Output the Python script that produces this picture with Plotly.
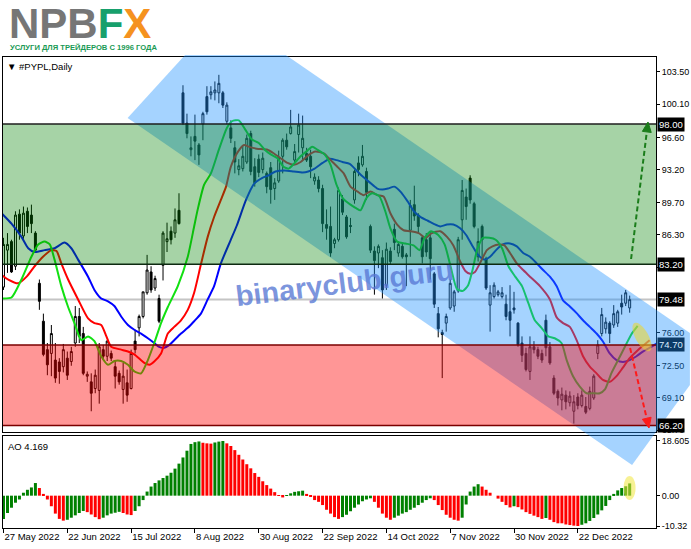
import math
import plotly.graph_objects as go

# ---------------- data ----------------
date_labels = ["27 May 2022", "22 Jun 2022", "15 Jul 2022", "8 Aug 2022", "30 Aug 2022",
               "22 Sep 2022", "14 Oct 2022", "7 Nov 2022", "30 Nov 2022", "22 Dec 2022"]
date_label_bars = [0, 16, 32, 48, 64, 80, 96, 112, 128, 144]

opens = [80.8, 84.7, 85.6, 83.0, 88.5, 86.2, 88.8, 88.4, 86.5, 81.2,
         77.2, 74.2, 73.8, 73.1, 72.9, 72.4, 73.3, 72.95, 74.9, 77.7,
         75.9, 71.4, 70.8, 70.1, 69.9, 74.2, 73.5, 73.8, 72.4, 71.7,
         70.0, 70.7, 70.1, 75.1, 76.5, 77.7, 80.2, 82.4, 80.7, 79.6,
         83.1, 85.6, 86.7, 86.5, 88.9, 101.3, 98.1, 95.3, 96.7, 95.8,
         98.0, 100.9, 101.1, 101.3, 101.3, 101.3, 98.3, 97.6, 95.5, 93.2,
         93.3, 94.0, 97.0, 93.5, 94.3, 93.2, 92.8, 93.4, 91.2, 92.0,
         94.6, 96.3, 97.0, 94.2, 96.9, 95.5, 94.9, 94.6, 92.0, 92.1,
         91.2, 87.4, 87.2, 85.4, 85.8, 90.1, 88.2, 87.3, 90.0, 93.9,
         93.7, 93.0, 87.2, 84.6, 84.4, 83.9, 81.0, 84.6, 86.9, 84.4,
         85.1, 84.2, 86.8, 89.5, 88.4, 86.0, 85.8, 86.0, 82.2, 78.0,
         76.0, 77.0, 78.6, 78.8, 80.4, 87.9, 90.3, 92.3, 89.6, 84.0,
         87.2, 83.8, 78.9, 79.8, 80.0, 79.8, 79.0, 78.2, 78.6, 77.0,
         74.9, 73.8, 71.9, 74.5, 74.2, 73.8, 77.3, 74.5, 71.2, 69.8,
         68.9, 69.4, 68.6, 67.7, 69.2, 68.3, 68.2, 68.0, 69.1, 73.8,
         75.9, 76.4, 77.0, 76.8, 77.0, 79.1, 79.1, 78.6]
highs = [86.0, 86.5, 85.8, 88.8, 89.0, 89.3, 89.2, 89.5, 86.7, 81.6,
         78.0, 74.9, 76.8, 74.9, 73.3, 74.8, 74.0, 74.5, 78.8, 78.6,
         76.6, 71.9, 71.7, 72.1, 74.9, 74.7, 75.2, 74.1, 73.1, 72.0,
         72.8, 72.1, 74.2, 76.3, 77.9, 80.3, 84.2, 83.0, 82.0, 80.0,
         86.7, 87.6, 87.2, 89.1, 90.7, 102.1, 99.1, 96.7, 99.0, 96.0,
         99.3, 102.0, 102.0, 102.5, 103.2, 101.5, 100.3, 98.4, 96.2, 94.3,
         95.8, 96.9, 97.3, 94.4, 94.8, 95.0, 93.0, 94.0, 92.3, 95.2,
         96.5, 97.0, 99.5, 95.9, 99.1, 98.9, 95.5, 95.3, 92.8, 92.5,
         91.6, 89.0, 89.3, 86.0, 91.3, 90.5, 88.4, 88.1, 93.2, 94.6,
         95.8, 93.4, 87.4, 85.1, 85.3, 84.7, 85.5, 85.0, 87.5, 85.6,
         85.4, 84.4, 90.0, 91.5, 88.6, 86.3, 86.5, 86.7, 82.4, 78.7,
         76.3, 78.0, 81.6, 80.5, 86.1, 92.1, 91.2, 92.6, 89.8, 87.0,
         87.4, 84.0, 81.0, 81.3, 80.5, 80.8, 80.0, 81.0, 80.3, 77.1,
         75.6, 74.4, 75.6, 75.1, 74.5, 74.2, 77.9, 75.0, 71.5, 70.0,
         70.2, 69.9, 69.8, 69.4, 69.6, 69.9, 69.2, 70.3, 71.6, 75.2,
         78.6, 77.6, 77.2, 78.9, 78.4, 80.0, 80.5, 79.9]
lows = [80.5, 82.3, 82.3, 82.6, 85.8, 85.9, 86.5, 86.5, 84.4, 78.4,
        73.5, 71.5, 71.4, 70.7, 70.6, 71.8, 71.0, 72.5, 74.5, 74.9,
        71.5, 70.8, 67.7, 69.6, 68.5, 73.1, 73.0, 73.0, 70.1, 70.5,
        68.5, 68.7, 70.0, 73.8, 75.6, 77.5, 80.0, 80.2, 80.4, 77.0,
        81.5, 84.5, 85.3, 86.0, 87.4, 97.9, 96.5, 94.6, 94.2, 93.7,
        96.3, 99.0, 100.6, 100.5, 100.2, 99.7, 98.0, 96.0, 92.8, 92.6,
        93.0, 93.8, 92.6, 91.4, 92.4, 92.8, 90.7, 89.6, 90.0, 91.8,
        92.8, 95.3, 96.9, 94.0, 95.0, 94.2, 94.0, 92.3, 91.6, 90.8,
        86.6, 85.8, 84.0, 84.9, 85.6, 88.4, 85.9, 86.5, 89.6, 92.5,
        93.5, 90.0, 84.4, 80.0, 82.8, 79.6, 80.5, 83.2, 84.7, 84.0,
        83.8, 80.9, 84.0, 87.8, 86.5, 83.3, 84.0, 81.6, 78.6, 75.5,
        71.2, 76.1, 78.4, 78.2, 80.2, 85.8, 87.9, 89.6, 87.0, 83.5,
        83.7, 80.5, 76.1, 79.6, 79.8, 79.6, 77.3, 75.6, 78.0, 74.5,
        72.9, 71.9, 71.0, 73.8, 73.2, 72.8, 73.5, 72.6, 69.4, 68.3,
        67.8, 67.9, 68.2, 66.4, 67.9, 68.1, 67.4, 67.8, 68.9, 73.2,
        75.6, 75.9, 74.9, 76.5, 76.6, 77.9, 78.8, 78.1]
closes = [85.3, 85.3, 82.4, 88.4, 86.5, 88.6, 87.2, 87.5, 84.7, 79.3,
          73.7, 72.6, 75.9, 71.2, 71.9, 74.2, 71.5, 74.0, 77.7, 75.6,
          71.7, 71.6, 69.6, 71.5, 74.5, 73.5, 75.1, 73.3, 71.4, 70.8,
          71.4, 69.4, 73.8, 74.2, 77.7, 80.3, 82.6, 80.5, 81.7, 77.2,
          86.5, 85.9, 85.8, 87.9, 87.5, 98.1, 97.0, 95.5, 96.2, 94.75,
          99.1, 99.3, 101.4, 101.6, 102.3, 100.0, 100.0, 96.5, 94.0, 93.6,
          94.6, 96.5, 93.0, 91.8, 92.9, 94.4, 91.4, 91.1, 91.8, 94.5,
          96.3, 95.6, 97.7, 95.1, 97.9, 96.5, 94.2, 93.5, 92.4, 91.2,
          87.5, 87.0, 84.4, 85.8, 91.0, 88.7, 86.1, 87.2, 93.0, 93.2,
          94.6, 90.8, 84.7, 83.6, 85.1, 80.5, 84.8, 83.5, 85.5, 85.3,
          84.0, 84.0, 89.4, 88.3, 87.2, 84.0, 84.5, 83.8, 79.0, 76.4,
          75.8, 77.7, 81.2, 80.3, 85.8, 91.0, 89.3, 90.0, 87.2, 85.6,
          85.8, 80.7, 80.2, 81.0, 80.3, 80.2, 77.7, 77.3, 78.4, 74.7,
          73.6, 72.1, 74.5, 74.2, 73.5, 73.1, 74.4, 72.8, 69.6, 69.1,
          69.5, 68.7, 69.3, 68.7, 68.3, 69.4, 67.6, 69.8, 71.4, 74.7,
          77.9, 77.1, 75.9, 78.0, 78.2, 78.7, 80.2, 79.48]

# Alligator-style lines (bar index, price)
lips_x = [-0.5, 2, 4.5, 7, 8.7, 10.3, 11.6, 12.8, 14.5, 16.2, 17.8, 19.5, 21.2, 22.8, 24.5,
          26.2, 27.8, 29.5, 31.2, 32.8, 34.5, 36.2, 37.8, 39.5, 41.2, 43.7, 46.2, 47.8, 48.7,
          50.3, 52, 54, 56, 57.3, 59, 60.5, 62.2, 64, 65.5, 67, 68.7, 70.2, 71.5, 72.8, 74.5,
          76.2, 77.4, 78.7, 80.5, 82, 83.5, 85.2, 87, 88.5, 89.5, 91, 92.4, 94.2, 95.8, 97,
          98.7, 100.8, 102.8, 104.3, 105.6, 107.2, 109, 110.6, 112.2, 113.7, 115.2, 116.5,
          117.6, 118.8, 120.2, 121.8, 123.4, 125, 126.6, 128.3, 130, 131.6, 133.2, 134.9,
          136.6, 138.2, 139.9, 141.2, 142.8, 144.5, 146.2, 147.8, 149.5, 150.8, 152.4, 154.1,
          155.8, 157.4, 159]
lips_y = [79.6, 79.7, 81.6, 84.0, 85.3, 85.6, 85.3, 83.7, 80.9, 78.7, 77.0, 75.2, 75.6, 75.1, 73.5,
          72.6, 73.0, 73.0, 72.6, 71.9, 71.7, 73.1, 74.9, 77.0, 78.7, 80.9, 84.0, 87.2, 89.0,
          91.6, 92.8, 95.3, 97.6, 98.3, 98.4, 97.5, 96.4, 96.0, 95.3, 94.8, 94.4, 93.5, 93.3, 93.8, 94.6,
          95.2, 95.6, 95.3, 94.8, 93.7, 91.6, 90.1, 89.5, 89.1, 88.9, 90.2, 90.7, 90.4, 88.7, 87.0,
          85.6, 85.4, 85.2, 84.7, 86.0, 86.7, 86.3, 85.3, 82.8, 80.6, 80.4, 81.0,
          82.6, 84.8, 86.0, 86.0, 85.8, 84.9, 83.0, 81.9, 80.9, 79.1, 77.3, 76.5,
          75.6, 75.4, 74.9, 73.1, 71.4, 70.3, 69.6, 69.6, 69.6, 70.0, 71.7, 73.1,
          74.5, 75.8, 76.7]
teeth_x = [-0.5, 1.2, 3.7, 5.8, 7.8, 9.9, 12, 13.3, 14.5, 16.2, 18.7, 21.2, 22.8, 24.5, 25.8, 27,
           29.5, 31.2, 32.8, 35.3, 36.6, 37.8, 39.5, 41.2, 42.8, 44.5, 46.2, 47.8, 49.5, 51.2,
           52.8, 54.5, 55.8, 57, 58.8, 60.3, 61.6, 63.5, 66.2, 67.8, 69.5, 71.2, 72.8, 74.5,
           76.4, 78.2, 80.3, 82, 83.7, 85.3, 87, 88.7, 90.3, 92, 93.7, 95.3, 97, 98.7, 100.3,
           102, 104.1, 105.8, 107.4, 109.5, 111.2, 112.8, 114.5, 115.8, 117, 118.2, 119.8,
           121.2, 122.6, 124.2, 125.6, 127, 128.7, 130.3, 132, 134.5, 137, 138.7, 140.3, 142,
           143.7, 145.3, 147, 148.7, 150.3, 152, 153.7, 155.3, 157, 158.7, 160.3, 162]
teeth_y = [82.1, 81.6, 81.2, 81.9, 83.0, 84.0, 84.7, 84.6, 83.3, 81.6, 79.5, 77.5, 77.0, 76.8, 75.6, 74.5,
           74.2, 74.0, 73.7, 72.8, 72.6, 72.95, 73.8, 75.9, 76.6, 77.3, 78.4, 80.2, 83.2, 86.1,
           88.2, 90.0, 91.4, 93.5, 95.1, 95.8, 95.6, 95.4, 95.3, 94.9, 94.4, 93.9, 93.7, 94.0,
           94.7, 95.1, 94.9, 94.2, 93.5, 92.8, 91.4, 90.9, 90.5, 90.9, 90.5, 90.35, 88.6, 87.4, 86.8,
           86.7, 86.5, 86.0, 86.5, 86.7, 86.1, 85.2, 83.5, 82.5, 82.2, 82.4, 83.6,
           84.7, 85.1, 85.3, 85.2, 84.4, 83.3, 82.6, 81.9, 80.9, 79.5, 77.6, 77.0, 76.6,
           75.2, 73.5, 72.4, 71.7, 71.0, 70.8, 71.4, 72.3, 73.3, 74.0, 74.6, 75.2]
jaw_x = [-0.5, 2, 4.5, 6.2, 7.8, 10.3, 12.8, 15.3, 17, 18.7, 21.2, 22.8, 24.5, 26.2, 27.8, 29.5,
         31.2, 32.8, 34.5, 36.2, 37.8, 39, 40.3, 41.6, 42.8, 44.5, 46.2, 47.8, 49.5, 51.2, 52.8,
         54.5, 57, 58.5, 60.8, 62.8, 64.8, 66.5, 68.2, 70.5, 72.8, 75, 76.4, 78, 80, 81.8, 83.5,
         85, 86.8, 88.3, 89.7, 91.8, 93.7, 95, 96.4, 98, 99.7, 101.4, 103, 104.7, 106.4, 108,
         109.5, 111.2, 112.8, 114.5, 116, 117.5, 119, 120.6, 122, 123.5, 125.2, 127, 128.7,
         130.3, 132, 133.7, 135.3, 137, 138.7, 140.3, 142, 143.7, 145.3, 147, 148.7, 150.3,
         152, 153.7, 155.3, 157, 158.7, 160.3, 162, 164]
jaw_y = [88.6, 87.5, 86.1, 84.9, 84.5, 84.7, 84.9, 85.5, 84.9, 83.7, 81.9, 80.5, 79.6, 79.3, 78.8, 77.7,
         76.8, 76.3, 75.9, 75.4, 74.9, 74.5, 74.4, 74.7, 75.2, 75.9, 76.5, 77.2, 78.0, 79.5, 80.9,
         83.3, 85.8, 87.3, 90.0, 91.7, 92.3, 92.6, 93.0, 93.1, 93.0, 92.9, 93.0, 93.3, 93.9, 94.35, 94.2,
         94.0, 93.8, 93.2, 92.6, 91.85, 91.2, 91.1, 91.2, 91.4, 90.8, 89.8, 88.75, 88.15, 87.8, 87.45,
         87.2, 87.4, 87.4, 87.0, 86.3, 85.2, 84.2, 83.7, 84.0, 84.7, 85.3, 85.4, 85.1,
         84.4, 84.0, 83.3, 82.6, 81.9, 80.9, 79.4, 78.75, 78.05, 77.3, 76.6, 75.9, 75.06,
         73.8, 73.1, 72.9, 73.1, 73.5, 74.0, 74.4, 74.9]

ao_values = [-7.9, -5.9, -4.1, -2.4, -1.3, 1.0, 2.0, 2.8, 4.3, 2.6,
             0.6, -1.3, -3.6, -6.1, -7.9, -8.5, -8.2, -7.5, -6.7, -5.9,
             -5.2, -5.6, -6.4, -7.3, -8.0, -7.5, -6.7, -6.1, -5.8, -5.5,
             -5.9, -6.4, -6.6, -5.2, -3.6, -1.5, 1.4, 3.1, 4.3, 5.2,
             6.0, 6.8, 7.8, 9.2, 10.9, 13.0, 15.3, 17.6, 18.2, 18.45,
             18.0, 17.8, 17.7, 18.1, 18.4, 18.605, 17.8, 16.9, 15.5, 13.9,
             12.3, 10.7, 9.3, 7.7, 6.4, 4.9, 3.6, 2.4, 1.2, 0.2,
             -0.6, 0.2, 0.8, 1.3, 1.5, 1.7, 0.6, -0.3, -1.5, -2.1,
             -3.2, -4.8, -6.1, -7.3, -7.9, -7.3, -6.5, -5.3, -4.1, -3.0,
             -1.9, -1.3, -0.9, -2.1, -4.1, -6.1, -7.5, -8.2, -7.5, -6.8,
             -6.1, -5.6, -4.8, -4.1, -3.2, -2.4, -1.5, -0.9, -1.5, -3.2,
             -4.9, -6.5, -7.5, -8.2, -8.5, -7.5, -3.0, 1.4, 3.1, 3.9,
             3.1, 2.0, 1.0, 0.0, -1.0, -2.1, -3.2, -4.0, -3.6, -3.9,
             -4.7, -5.6, -6.2, -6.8, -7.3, -7.9, -7.6, -8.2, -9.0, -9.4,
             -9.4, -9.8, -10.0, -10.2, -10.32, -9.9, -9.4, -8.6, -7.6, -6.4,
             -5.0, -3.5, -1.5, 0.6, 1.8, 2.6, 3.2, 4.169]

price_ticks = [103.5, 100.1, 96.6, 93.2, 89.7, 86.3, 82.9, 76.0, 72.5, 69.1, 65.7]
ao_ticks = [18.605, 0.0, -10.32]
ao_tick_text = ["18.605", "0.00", "-10.32"]
green_zone = [83.2, 98.0]
red_zone = [66.2, 74.7]
bid_price = 79.48
level_marks = [98.0, 83.2, 79.48, 74.7, 66.2]

bars = list(range(len(opens)))

# ---------------- geometry helpers (pixel -> paper) ----------------
W, H = 691, 549
ML, MR, MT, MB = 2, 34, 57, 21
PW, PH = W - ML - MR, H - MT - MB


def PX(x):
    return (x - ML) / PW


def PY(y):
    return (H - MB - y) / PH


def path_from_px(points):
    return "M " + " L ".join(f"{PX(x):.5f},{PY(y):.5f}" for x, y in points) + " Z"


def ellipse_px(cx, cy, a, b, ang_deg, n=40):
    th = math.radians(ang_deg)
    pts = []
    for k in range(n):
        t = 2 * math.pi * k / n
        ex, ey = a * math.cos(t), b * math.sin(t)
        pts.append((cx + ex * math.cos(th) - ey * math.sin(th),
                    cy + ex * math.sin(th) + ey * math.cos(th)))
    return pts


def arrow_shapes(x0, y0, x1, y1, color):
    dx, dy = x1 - x0, y1 - y0
    ln = math.hypot(dx, dy)
    ux, uy = dx / ln, dy / ln
    nx, ny = -uy, ux
    hl, hw = 10, 4.5
    bx, by = x1 - hl * ux, y1 - hl * uy
    line = dict(type="line", xref="paper", yref="paper", x0=PX(x0), y0=PY(y0), x1=PX(bx), y1=PY(by),
                line=dict(color=color, width=2, dash="5px,3px"), layer="above")
    head = dict(type="path", xref="paper", yref="paper",
                path=path_from_px([(x1, y1), (bx + hw * nx, by + hw * ny), (bx - hw * nx, by - hw * ny)]),
                fillcolor=color, line=dict(color=color, width=1), layer="above")
    return [line, head]


# ---------------- figure ----------------
fig = go.Figure()

fig.add_trace(go.Candlestick(
    x=bars, open=opens, high=highs, low=lows, close=closes,
    increasing=dict(line=dict(color="black", width=1), fillcolor="white"),
    decreasing=dict(line=dict(color="black", width=1), fillcolor="black"),
    whiskerwidth=0, xaxis="x", yaxis="y", showlegend=False, hoverinfo="skip"))

for xs, ys, col in [(jaw_x, jaw_y, "#0000ff"), (teeth_x, teeth_y, "#ff0000"), (lips_x, lips_y, "#12e012")]:
    fig.add_trace(go.Scatter(x=xs, y=ys, mode="lines",
                             line=dict(color=col, width=2, shape="spline", smoothing=0.6),
                             xaxis="x", yaxis="y", showlegend=False, hoverinfo="skip"))

ao_colors = []
for i, v in enumerate(ao_values):
    if i == 0 or v > ao_values[i - 1]:
        ao_colors.append("#008000")
    else:
        ao_colors.append("#ff0000")

fig.add_trace(go.Bar(x=bars, y=ao_values, marker=dict(color=ao_colors, line=dict(width=0)),
                     xaxis="x2", yaxis="y2", showlegend=False, hoverinfo="skip"))

xr = [-0.125, 163.6]
tick_font = dict(family="Liberation Sans, Arial, sans-serif", size=9, color="black")

fig.update_layout(
    width=W, height=H, margin=dict(l=ML, r=MR, t=MT, b=MB),
    paper_bgcolor="white", plot_bgcolor="white", bargap=0.25, showlegend=False,
    xaxis=dict(domain=[0, 1], range=xr, anchor="y", showticklabels=False, ticks="",
               showline=True, mirror=True, linecolor="black", linewidth=1,
               showgrid=False, zeroline=False, rangeslider=dict(visible=False)),
    yaxis=dict(domain=[(H - MB - 432) / PH, 1], range=[65.51, 105.08], anchor="x", side="right",
               tickvals=price_ticks, ticktext=[f"{v:.2f}" for v in price_ticks],
               ticks="outside", ticklen=3, tickcolor="black", tickfont=tick_font,
               showline=True, mirror=True, linecolor="black", linewidth=1,
               showgrid=False, zeroline=False),
    xaxis2=dict(domain=[0, 1], range=xr, anchor="y2", tickvals=date_label_bars, ticktext=date_labels,
                ticks="outside", ticklen=4, tickcolor="black", ticklabelposition="outside right",
                tickfont=dict(family="Liberation Sans, Arial, sans-serif", size=9.5, color="black"),
                showline=True, mirror=True, linecolor="black", linewidth=1,
                showgrid=False, zeroline=False),
    yaxis2=dict(domain=[0, (H - MB - 436) / PH], range=[-11.0, 20.3], anchor="x2", side="right",
                tickvals=ao_ticks, ticktext=ao_tick_text,
                ticks="outside", ticklen=3, tickcolor="black", tickfont=tick_font,
                showline=True, mirror=True, linecolor="black", linewidth=1,
                showgrid=False, zeroline=False),
)

shapes = []
shapes.append(dict(type="line", xref="paper", yref="y", x0=0, x1=1, y0=bid_price, y1=bid_price,
                   line=dict(color="#c4c4c4", width=2), layer="below"))
channel_px = [(184.6, 55), (285.7, 55), (691, 333), (691, 385), (633, 465), (127, 118)]
shapes.append(dict(type="path", xref="paper", yref="paper", path=path_from_px(channel_px),
                   fillcolor="rgba(30,144,255,0.40)", line=dict(width=0), layer="above"))
shapes.append(dict(type="rect", xref="paper", yref="y", x0=0, x1=1, y0=green_zone[0], y1=green_zone[1],
                   fillcolor="rgba(0,128,0,0.35)", line=dict(width=0), layer="above"))
shapes.append(dict(type="rect", xref="paper", yref="y", x0=0, x1=1, y0=red_zone[0], y1=red_zone[1],
                   fillcolor="rgba(255,0,0,0.41)", line=dict(width=0), layer="above"))
for lv, col in [(green_zone[1], "#1e1e1e"), (green_zone[0], "#0d2a10"),
                (red_zone[1], "#7a0000"), (red_zone[0], "#7a0000")]:
    shapes.append(dict(type="line", xref="paper", yref="y", x0=0, x1=1, y0=lv, y1=lv,
                       line=dict(color=col, width=1.5), layer="above"))
shapes += arrow_shapes(632, 259, 649, 122, "#1b7d1b")
shapes += arrow_shapes(631, 348, 650, 428, "#ff1a1a")
shapes.append(dict(type="path", xref="paper", yref="paper", path=path_from_px(ellipse_px(643, 337, 16, 6.5, 61)),
                   fillcolor="rgba(238,215,40,0.55)", line=dict(width=0), layer="above"))
shapes.append(dict(type="path", xref="paper", yref="paper", path=path_from_px(ellipse_px(630.5, 488, 12, 6, 90)),
                   fillcolor="rgba(240,230,60,0.55)", line=dict(width=0), layer="above"))
fig.update_layout(shapes=shapes)

ann = []
for lv in level_marks:
    bg, fg = "black", "white"
    if lv == red_zone[1]:
        bg, fg = "#0c3a66", "#d8ecff"
    ann.append(dict(text=f"{lv:.2f}", xref="paper", yref="y", x=1, y=lv, xanchor="left", yanchor="middle",
                    xshift=1, showarrow=False, bgcolor=bg, borderpad=1,
                    font=dict(family="Liberation Sans, Arial, sans-serif", size=9.5, color=fg)))
ann.append(dict(text="<b>binaryclub.guru</b>", xref="paper", yref="paper", x=PX(345), y=PY(283),
                showarrow=False, textangle=-7,
                font=dict(family="Liberation Sans, Arial, sans-serif", size=29, color="rgba(88,120,212,0.78)")))
ann.append(dict(text="<b><span style='color:#767676'>NPB</span><span style='color:#17a06c'>F</span>"
                     "<span style='color:#f5921f'>X</span></b>",
                xref="paper", yref="paper", x=PX(6), y=PY(23), xanchor="left", yanchor="middle",
                showarrow=False, font=dict(family="Liberation Sans, Arial, sans-serif", size=42)))
ann.append(dict(text="<b>УСЛУГИ ДЛЯ ТРЕЙДЕРОВ С 1996 ГОДА</b>", xref="paper", yref="paper",
                x=PX(7), y=PY(47), xanchor="left", yanchor="middle", showarrow=False,
                font=dict(family="Liberation Sans, Arial, sans-serif", size=7.6, color="#1a9a55")))
ann.append(dict(text="▼ #PYPL,Daily", xref="paper", yref="paper", x=PX(4), y=PY(66),
                xanchor="left", yanchor="middle", showarrow=False,
                font=dict(family="Liberation Sans, Arial, sans-serif", size=9.5, color="black")))
ann.append(dict(text="AO 4.169", xref="paper", yref="paper", x=PX(5), y=PY(446),
                xanchor="left", yanchor="middle", showarrow=False,
                font=dict(family="Liberation Sans, Arial, sans-serif", size=9.5, color="black")))
fig.update_layout(annotations=ann)

fig.write_html("out.html", config={"displayModeBar": False},
               post_script="document.body.style.margin='0';document.body.style.padding='0';")
